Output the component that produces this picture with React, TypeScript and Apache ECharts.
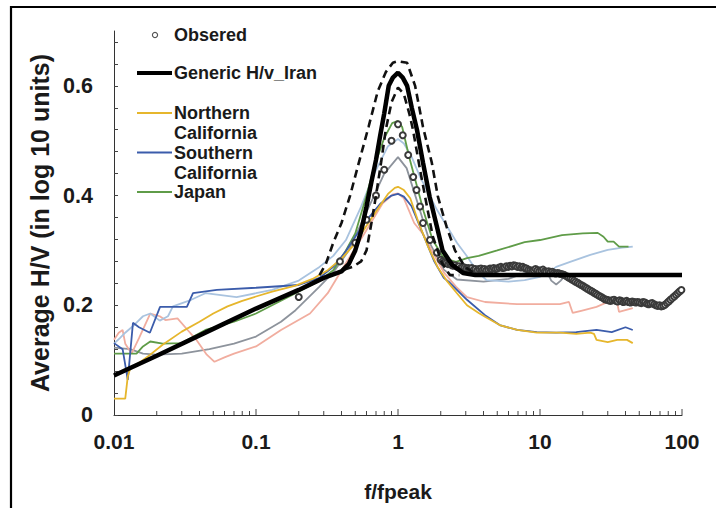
import React, { useEffect, useRef } from "react";
import * as echarts from "echarts";

// ---------- data (f/fpeak, average H/V in log10 units) ----------
const genericIran: [number, number][] = [
  [0.01, 0.072], [0.02, 0.108], [0.05, 0.157], [0.1, 0.194], [0.2, 0.228], [0.3, 0.25],
  [0.4, 0.262], [0.45, 0.275], [0.5, 0.3], [0.55, 0.335], [0.6, 0.38], [0.65, 0.425],
  [0.7, 0.465], [0.75, 0.51], [0.8, 0.55], [0.86, 0.6], [0.92, 0.615], [1.0, 0.624],
  [1.08, 0.615], [1.16, 0.6], [1.25, 0.56], [1.36, 0.52], [1.5, 0.46], [1.67, 0.398],
  [1.88, 0.343], [2.06, 0.3], [2.4, 0.274], [2.87, 0.259], [3.5, 0.255], [10, 0.255], [100, 0.255],
];
const upperBound: [number, number][] = [
  [0.28, 0.255], [0.31, 0.275], [0.35, 0.314], [0.4, 0.35], [0.46, 0.4], [0.53, 0.46],
  [0.62, 0.525], [0.72, 0.59], [0.82, 0.625], [0.92, 0.642], [1.0, 0.645], [1.16, 0.642],
  [1.32, 0.6], [1.5, 0.525], [1.73, 0.46], [1.91, 0.398], [2.2, 0.343], [2.52, 0.3],
  [2.96, 0.27], [3.6, 0.255], [4.2, 0.255],
];
const lowerBound: [number, number][] = [
  [0.42, 0.265], [0.48, 0.27], [0.55, 0.28], [0.6, 0.3], [0.65, 0.35], [0.7, 0.4],
  [0.76, 0.46], [0.82, 0.52], [0.9, 0.57], [1.0, 0.597], [1.1, 0.585], [1.2, 0.55],
  [1.275, 0.52], [1.43, 0.447], [1.6, 0.38], [1.76, 0.325], [2.04, 0.277], [2.32, 0.255], [2.7, 0.255],
];
const northernCal: [number, number][] = [
  [0.01, 0.03], [0.012, 0.03], [0.0125, 0.07], [0.013, 0.085], [0.015, 0.095], [0.018, 0.11],
  [0.022, 0.128], [0.03, 0.152], [0.04, 0.17], [0.05, 0.185], [0.063, 0.198], [0.08, 0.208],
  [0.1, 0.216], [0.13, 0.225], [0.19, 0.236], [0.25, 0.248], [0.32, 0.264], [0.4, 0.285],
  [0.5, 0.313], [0.6, 0.345], [0.73, 0.378], [0.85, 0.403], [0.95, 0.414], [1.0, 0.416],
  [1.1, 0.41], [1.22, 0.395], [1.4, 0.35], [1.64, 0.305], [1.9, 0.27], [2.2, 0.245],
  [2.6, 0.222], [3.06, 0.2], [3.7, 0.186], [4.1, 0.179], [5.2, 0.164], [6.9, 0.155],
  [9.5, 0.15], [13.8, 0.15], [18, 0.148], [22.6, 0.15], [24, 0.148], [25, 0.137],
  [30, 0.133], [35, 0.137], [41, 0.137], [45, 0.131],
];
const southernCal: [number, number][] = [
  [0.01, 0.131], [0.0115, 0.12], [0.0125, 0.064], [0.0136, 0.168], [0.015, 0.16], [0.0179, 0.15],
  [0.0211, 0.197], [0.0326, 0.197], [0.036, 0.222], [0.053, 0.228], [0.1, 0.232], [0.2, 0.237],
  [0.28, 0.25], [0.35, 0.27], [0.42, 0.295], [0.5, 0.325], [0.6, 0.355], [0.75, 0.385],
  [0.9, 0.4], [1.0, 0.403], [1.1, 0.398], [1.25, 0.38], [1.5, 0.33], [1.8, 0.28],
  [2.1, 0.25], [2.32, 0.241], [3.06, 0.21], [4.1, 0.182], [5.2, 0.164], [6.9, 0.155],
  [9.5, 0.151], [13, 0.15], [18, 0.151], [25, 0.155], [32, 0.151], [40, 0.16], [45, 0.155],
];
const japan: [number, number][] = [
  [0.01, 0.112], [0.0144, 0.112], [0.016, 0.125], [0.018, 0.134], [0.022, 0.13], [0.03, 0.131],
  [0.044, 0.155], [0.07, 0.17], [0.1, 0.185], [0.19, 0.222], [0.28, 0.245], [0.35, 0.264],
  [0.43, 0.3], [0.5, 0.331], [0.6, 0.4], [0.68, 0.453], [0.8, 0.505], [0.91, 0.532],
  [1.0, 0.536], [1.07, 0.525], [1.2, 0.47], [1.35, 0.42], [1.52, 0.37], [1.75, 0.32],
  [2.05, 0.29], [2.3, 0.283], [2.56, 0.279], [3.06, 0.286], [3.7, 0.29], [5, 0.3],
  [7.8, 0.315], [10, 0.319], [14.3, 0.328], [20, 0.331], [25.5, 0.332], [28, 0.325],
  [30, 0.316], [33, 0.316], [36, 0.307], [42, 0.307],
];
const otherPink: [number, number][] = [
  [0.01, 0.137], [0.0108, 0.15], [0.0115, 0.155], [0.012, 0.13], [0.0133, 0.112], [0.015, 0.14],
  [0.018, 0.185], [0.021, 0.18], [0.023, 0.173], [0.028, 0.176], [0.033, 0.155], [0.038, 0.137],
  [0.045, 0.11], [0.051, 0.097], [0.06, 0.105], [0.07, 0.112], [0.1, 0.125], [0.15, 0.155],
  [0.24, 0.185], [0.32, 0.222], [0.43, 0.277], [0.58, 0.331], [0.78, 0.386], [0.92, 0.402],
  [1.0, 0.404], [1.1, 0.395], [1.3, 0.35], [1.5, 0.33], [1.77, 0.295], [2.1, 0.26],
  [2.56, 0.234], [3.06, 0.215], [4.1, 0.206], [6.9, 0.202], [13.8, 0.202], [16, 0.206],
  [17, 0.186], [19.5, 0.19], [25, 0.197], [30, 0.206], [35, 0.204], [36, 0.188], [45, 0.195],
];
const otherLightBlue: [number, number][] = [
  [0.01, 0.13], [0.011, 0.14], [0.012, 0.15], [0.014, 0.165], [0.016, 0.18], [0.018, 0.185],
  [0.021, 0.172], [0.024, 0.18], [0.026, 0.198], [0.035, 0.21], [0.044, 0.222], [0.073, 0.215],
  [0.1, 0.222], [0.13, 0.228], [0.2, 0.245], [0.28, 0.27], [0.35, 0.29], [0.43, 0.319],
  [0.55, 0.38], [0.68, 0.44], [0.85, 0.49], [1.0, 0.503], [1.1, 0.495], [1.25, 0.47],
  [1.43, 0.434], [1.88, 0.374], [2.6, 0.314], [3.05, 0.29], [3.6, 0.262], [4.2, 0.246],
  [6, 0.243], [7.8, 0.246], [10, 0.252], [11.2, 0.258], [13, 0.27], [16.3, 0.279],
  [22.6, 0.292], [30, 0.301], [38, 0.305], [45, 0.307],
];
const otherGray: [number, number][] = [
  [0.01, 0.123], [0.013, 0.12], [0.016, 0.112], [0.02, 0.11], [0.03, 0.112], [0.047, 0.12],
  [0.07, 0.13], [0.1, 0.143], [0.15, 0.17], [0.19, 0.191], [0.28, 0.234], [0.35, 0.26],
  [0.45, 0.3], [0.6, 0.37], [0.8, 0.44], [1.0, 0.47], [1.15, 0.45], [1.4, 0.38],
  [1.7, 0.31], [2.1, 0.265], [2.6, 0.247], [4, 0.243], [6, 0.248], [8, 0.26],
  [10, 0.27], [11, 0.265], [12, 0.245], [13, 0.238], [14, 0.245], [15, 0.255],
];
const observed: [number, number][] = [
  [0.2, 0.215], [0.39, 0.28], [0.5, 0.314], [0.6, 0.356], [0.7, 0.4], [0.8, 0.447],
  [0.9, 0.5], [1.0, 0.53], [1.08, 0.51], [1.18, 0.474], [1.28, 0.434], [1.35, 0.41],
  [1.43, 0.38], [1.5, 0.35], [1.68, 0.319], [1.88, 0.296],
  [2.0, 0.283], [2.06, 0.28], [2.12, 0.278], [2.19, 0.277], [2.25, 0.275], [2.32, 0.276],
  [2.39, 0.273], [2.46, 0.272], [2.53, 0.273], [2.61, 0.27], [2.69, 0.271], [2.77, 0.268],
  [2.85, 0.27], [2.94, 0.269], [3.03, 0.267], [3.12, 0.268], [3.21, 0.266], [3.31, 0.268],
  [3.41, 0.265], [3.51, 0.266], [3.62, 0.264], [3.72, 0.266], [3.84, 0.267], [3.95, 0.265],
  [4.07, 0.266], [4.19, 0.264], [4.32, 0.265], [4.45, 0.267], [4.58, 0.266], [4.72, 0.268],
  [4.86, 0.266], [5.0, 0.267], [5.15, 0.269], [5.31, 0.27], [5.47, 0.268], [5.63, 0.269],
  [5.8, 0.271], [5.98, 0.27], [6.16, 0.272], [6.34, 0.271], [6.53, 0.273], [6.73, 0.272],
  [6.93, 0.27], [7.14, 0.271], [7.35, 0.269], [7.57, 0.27], [7.8, 0.268], [8.03, 0.267],
  [8.27, 0.265], [8.52, 0.264], [8.78, 0.263], [9.04, 0.264], [9.31, 0.266], [9.59, 0.264],
  [9.88, 0.262], [10.2, 0.263], [10.5, 0.265], [10.8, 0.262], [11.1, 0.261], [11.5, 0.262],
  [11.8, 0.26], [12.2, 0.261], [12.5, 0.259], [12.9, 0.258], [13.3, 0.259], [13.7, 0.258],
  [14.1, 0.257], [14.5, 0.256], [14.9, 0.255], [15.4, 0.253], [15.8, 0.251], [16.3, 0.249],
  [16.8, 0.247], [17.3, 0.245], [17.8, 0.243], [18.4, 0.241], [18.9, 0.239], [19.5, 0.237],
  [20.1, 0.235], [20.7, 0.233], [21.3, 0.231], [21.9, 0.229], [22.6, 0.227], [23.3, 0.225],
  [24.0, 0.223], [24.7, 0.221], [25.4, 0.219], [26.2, 0.217], [27.0, 0.215], [27.8, 0.213],
  [28.6, 0.211], [29.5, 0.21], [30.4, 0.209], [31.3, 0.208], [32.2, 0.209], [33.2, 0.21],
  [34.2, 0.208], [35.2, 0.207], [36.3, 0.209], [37.4, 0.208], [38.5, 0.206], [39.6, 0.207],
  [40.8, 0.208], [42.0, 0.206], [43.3, 0.205], [44.6, 0.207], [45.9, 0.206], [47.3, 0.205],
  [48.7, 0.206], [50.2, 0.205], [51.7, 0.204], [53.2, 0.206], [54.8, 0.205], [56.5, 0.203],
  [58.2, 0.202], [59.9, 0.203], [61.7, 0.204], [63.6, 0.202], [65.5, 0.2], [67.4, 0.199],
  [69.5, 0.2], [71.5, 0.198], [73.7, 0.199], [75.9, 0.201], [78.2, 0.204], [80.5, 0.207],
  [82.9, 0.21], [85.4, 0.213], [88.0, 0.216], [90.6, 0.219], [93.3, 0.222], [96.1, 0.225], [99.0, 0.228],
];
const xMinorTicks = [
  0.02, 0.03, 0.04, 0.05, 0.06, 0.07, 0.08, 0.09,
  0.2, 0.3, 0.4, 0.5, 0.6, 0.7, 0.8, 0.9,
  2, 3, 4, 5, 6, 7, 8, 9,
  20, 30, 40, 50, 60, 70, 80, 90,
];
const xMajorTicks = [0.1, 1, 10, 100];
const legendLines = ["Obsered", "Generic H/v_Iran", "Northern", "California", "Southern", "California", "Japan"];

const FONT = "Liberation Sans, Arial, sans-serif";
const TXT = "#1a1a1a";

export default function App() {
  const ref = useRef<HTMLDivElement>(null);
  useEffect(() => {
    if (!ref.current) return;
    const chart = echarts.init(ref.current, undefined, { renderer: "svg" });
    const line = (name: string, data: [number, number][], color: string, width: number, extra: any = {}) => ({
      name, type: "line", data, showSymbol: false, symbol: "none", smooth: false,
      lineStyle: { color, width, ...(extra.lineStyle || {}) }, z: extra.z ?? 2, silent: true,
    });
    const tickSeries = (ticks: number[], len: number) => ({
      type: "custom", silent: true, clip: false, z: 5,
      data: ticks.map((f) => [f, 0]),
      renderItem: (params: any, api: any) => {
        const p = api.coord([api.value(0), 0]);
        return { type: "line", shape: { x1: p[0], y1: p[1], x2: p[0], y2: p[1] - len }, style: { stroke: "#444", lineWidth: 1 } };
      },
    });
    const lx1 = 137, lx2 = 172, tx = 174;
    const markerY = [35, 73, 113, 152.5, 192];
    const textY = [35, 73, 113, 132.5, 152.5, 172.5, 192];
    chart.setOption({
      animation: false,
      backgroundColor: "#fff",
      grid: { left: 114, right: 34, top: 31, bottom: 93, containLabel: false },
      xAxis: {
        type: "log", logBase: 10, min: 0.01, max: 100,
        name: "f/fpeak", nameLocation: "middle", nameGap: 66,
        nameTextStyle: { fontFamily: FONT, fontSize: 21, fontWeight: "bold", color: TXT },
        axisLine: { lineStyle: { color: "#333", width: 1 } },
        axisTick: { show: false },
        splitLine: { show: false },
        axisLabel: {
          fontFamily: FONT, fontSize: 21, fontWeight: "bold", color: TXT, margin: 16,
          formatter: (v: number) => String(Number(v.toPrecision(3))),
        },
      },
      yAxis: {
        type: "value", min: 0, max: 0.7, interval: 0.04,
        name: "Average H/V (in log 10 units)", nameLocation: "middle", nameGap: 61,
        nameTextStyle: { fontFamily: FONT, fontSize: 25, fontWeight: "bold", color: TXT },
        axisLine: { show: true, lineStyle: { color: "#333", width: 1 } },
        axisTick: { show: true, inside: true, length: 4, lineStyle: { color: "#444" } },
        splitLine: { show: false },
        axisLabel: {
          fontFamily: FONT, fontSize: 21.5, fontWeight: "bold", color: TXT, margin: 21,
          showMaxLabel: false,
          formatter: (v: number) => (Math.abs(v * 5 - Math.round(v * 5)) < 1e-6 ? String(Number(v.toFixed(1))) : ""),
        },
      },
      series: [
        line("other gray", otherGray, "#8d939c", 1.8),
        line("other pink", otherPink, "#f1ad9f", 1.8),
        line("other light blue", otherLightBlue, "#a9c3df", 1.8),
        line("Japan", japan, "#5f9c48", 1.8),
        line("Southern California", southernCal, "#3b5cab", 1.8),
        line("Northern California", northernCal, "#e6b62c", 1.8),
        {
          name: "Obsered", type: "scatter", data: observed, symbol: "emptyCircle", symbolSize: 6,
          itemStyle: { color: "#3a3a3a", borderColor: "#3a3a3a", borderWidth: 1.4, opacity: 1 }, z: 3, silent: true,
        },
        line("upper bound", upperBound, "#111", 2.6, { lineStyle: { type: [8, 5] }, z: 4 }),
        line("lower bound", lowerBound, "#111", 2.6, { lineStyle: { type: [8, 5] }, z: 4 }),
        line("Generic H/v_Iran", genericIran, "#000", 4.5, { z: 4 }),
        tickSeries(xMinorTicks, 4),
        tickSeries(xMajorTicks, 6),
      ],
      graphic: [
        { type: "line", shape: { x1: 11, y1: 7, x2: 716, y2: 7 }, style: { stroke: "#000", lineWidth: 2.2 }, silent: true },
        { type: "line", shape: { x1: 11, y1: 6, x2: 11, y2: 508 }, style: { stroke: "#000", lineWidth: 2.2 }, silent: true },
        { type: "circle", shape: { cx: 155, cy: markerY[0], r: 2.6 }, style: { fill: "#fff", stroke: "#555", lineWidth: 1.2 } },
        { type: "line", shape: { x1: lx1, y1: markerY[1], x2: lx2, y2: markerY[1] }, style: { stroke: "#000", lineWidth: 4 } },
        { type: "line", shape: { x1: lx1, y1: markerY[2], x2: lx2, y2: markerY[2] }, style: { stroke: "#e6b62c", lineWidth: 2 } },
        { type: "line", shape: { x1: lx1, y1: markerY[3], x2: lx2, y2: markerY[3] }, style: { stroke: "#3b5cab", lineWidth: 2 } },
        { type: "line", shape: { x1: lx1, y1: markerY[4], x2: lx2, y2: markerY[4] }, style: { stroke: "#5f9c48", lineWidth: 2 } },
        ...legendLines.map((t, i) => ({
          type: "text", x: tx, y: textY[i],
          style: { text: t, fontFamily: FONT, fontSize: 18, fontWeight: "bold", fill: TXT, lineHeight: 17, verticalAlign: "middle" },
        })),
      ],
    });
    return () => chart.dispose();
  }, []);
  return <div ref={ref} style={{ width: 716, height: 508, position: "absolute", left: 0, top: 0 }} />;
}
